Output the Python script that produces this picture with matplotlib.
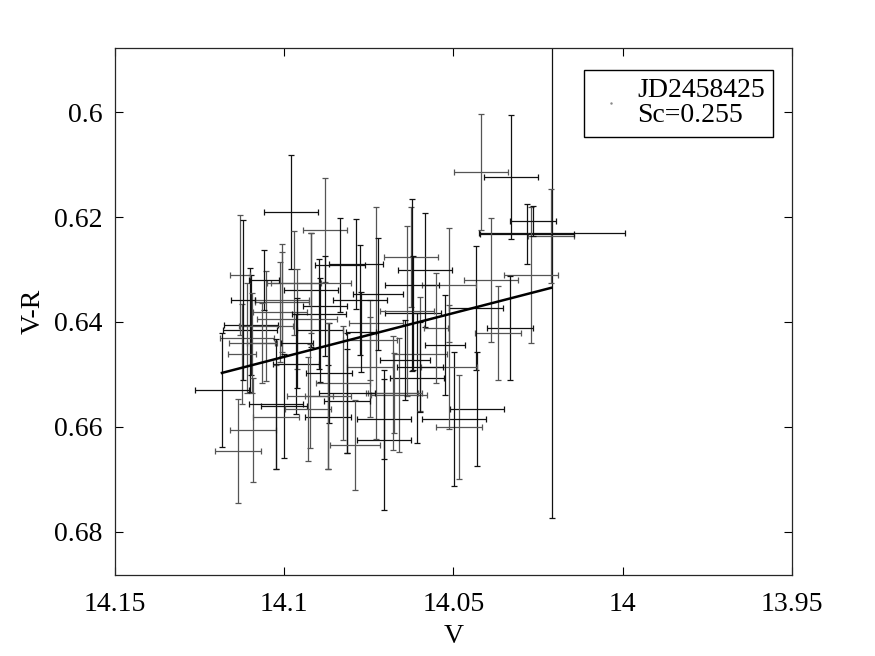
import matplotlib
matplotlib.use('Agg')
import matplotlib.pyplot as plt
import numpy as np

# V magnitude, V-R colour and their errors
v_mag = [14.0209, 14.0212, 14.0283, 14.0271, 14.0265, 14.0419, 14.0330, 14.0389, 14.0333, 14.0369,
         14.0434, 14.0513, 14.0584, 14.0626, 14.0431, 14.0484, 14.0499, 14.0513, 14.0608, 14.0661,
         14.0705, 14.0599, 14.0620, 14.0729, 14.0723, 14.0637, 14.0623, 14.0679, 14.0705, 14.0747,
         14.0599, 14.0676, 14.0980, 14.0880, 14.0835, 14.0971, 14.0921, 14.1007, 14.1101, 14.1110,
         14.1098, 14.1007, 14.0880, 14.1013, 14.0897, 14.0962, 14.0894, 14.1095, 14.0962, 14.1125,
         14.0965, 14.1137, 14.1184, 14.1092, 14.1001, 14.1024, 14.0815, 14.0924, 14.0871, 14.0930,
         14.0815, 14.0826, 14.0868, 14.0871, 14.1024, 14.1054, 14.0788, 14.0921, 14.1060, 14.0747,
         14.0776, 14.1131, 14.1122, 14.1066, 14.0773, 14.0552, 14.0525, 14.0791, 14.0643]
v_r = [0.6230, 0.6236, 0.6232, 0.6310, 0.6208, 0.6114, 0.6124, 0.6320, 0.6411, 0.6421,
       0.6373, 0.6330, 0.6301, 0.6276, 0.6566, 0.6600, 0.6585, 0.6486, 0.6507, 0.6539,
       0.6625, 0.6461, 0.6383, 0.6402, 0.6347, 0.6379, 0.6330, 0.6535, 0.6585, 0.6486,
       0.6486, 0.6535, 0.6190, 0.6225, 0.6291, 0.6326, 0.6339, 0.6358, 0.6415, 0.6430,
       0.6406, 0.6362, 0.6370, 0.6381, 0.6385, 0.6394, 0.6415, 0.6440, 0.6440, 0.6461,
       0.6480, 0.6646, 0.6530, 0.6606, 0.6560, 0.6581, 0.6550, 0.6541, 0.6581, 0.6566,
       0.6535, 0.6516, 0.6497, 0.6541, 0.6556, 0.6408, 0.6290, 0.6326, 0.6320, 0.6434,
       0.6358, 0.6310, 0.6358, 0.6440, 0.6419, 0.6411, 0.6444, 0.6634, 0.6472]
v_err = [0.0216, 0.0068, 0.0139, 0.0080, 0.0068, 0.0080, 0.0080, 0.0080, 0.0068, 0.0068,
         0.0080, 0.0080, 0.0080, 0.0080, 0.0080, 0.0068, 0.0095, 0.0083, 0.0080, 0.0083,
         0.0080, 0.0080, 0.0083, 0.0080, 0.0074, 0.0080, 0.0080, 0.0074, 0.0080, 0.0068,
         0.0068, 0.0083, 0.0080, 0.0065, 0.0074, 0.0080, 0.0080, 0.0080, 0.0080, 0.0080,
         0.0080, 0.0080, 0.0065, 0.0080, 0.0080, 0.0118, 0.0068, 0.0068, 0.0047, 0.0041,
         0.0068, 0.0068, 0.0080, 0.0068, 0.0068, 0.0068, 0.0068, 0.0068, 0.0068, 0.0068,
         0.0083, 0.0080, 0.0068, 0.0068, 0.0080, 0.0080, 0.0080, 0.0118, 0.0044, 0.0080,
         0.0080, 0.0030, 0.0035, 0.0044, 0.0044, 0.0035, 0.0059, 0.0074, 0.0074]
vr_err = [0.0543, 0.0090, 0.0057, 0.0130, 0.0029, 0.0110, 0.0118, 0.0118, 0.0099, 0.0090,
          0.0118, 0.0109, 0.0109, 0.0095, 0.0109, 0.0099, 0.0128, 0.0118, 0.0124, 0.0109,
          0.0133, 0.0109, 0.0109, 0.0221, 0.0107, 0.0162, 0.0164, 0.0109, 0.0076, 0.0095,
          0.0086, 0.0076, 0.0109, 0.0099, 0.0090, 0.0099, 0.0109, 0.0107, 0.0118, 0.0105,
          0.0095, 0.0095, 0.0095, 0.0095, 0.0105, 0.0095, 0.0099, 0.0095, 0.0086, 0.0095,
          0.0095, 0.0099, 0.0109, 0.0099, 0.0099, 0.0099, 0.0099, 0.0099, 0.0099, 0.0099,
          0.0114, 0.0109, 0.0095, 0.0139, 0.0124, 0.0105, 0.0086, 0.0095, 0.0057, 0.0076,
          0.0105, 0.0114, 0.0152, 0.0076, 0.0076, 0.0105, 0.0095, 0.0086, 0.0076]

# linear fit drawn over the data
fit_v = [14.1184, 14.0212]
fit_vr = [0.6497, 0.6335]

legend_label = 'JD2458425\nSc=0.255'

plt.rcParams['font.family'] = ['Liberation Serif', 'DejaVu Serif']
plt.rcParams['font.size'] = 20

fig = plt.figure(figsize=(8.75, 6.56), dpi=100)
ax = fig.add_axes([0.1314, 0.1235, 0.7737, 0.8033])

for i in range(len(v_mag)):
    col = '#111111' if i % 2 == 0 else '#555555'
    ax.errorbar(v_mag[i], v_r[i], xerr=v_err[i], yerr=vr_err[i], fmt='none',
                ecolor=col, elinewidth=0.9, capsize=2.2, capthick=0.9)

ax.plot([], [], '.', color='#888888', markersize=1.5, label=legend_label)
ax.plot(fit_v, fit_vr, color='black', linewidth=1.8)

ax.set_xlim(14.15, 13.95)
ax.set_ylim(0.6882, 0.5878)
ax.set_xticks([14.15, 14.1, 14.05, 14.0, 13.95])
ax.set_xticklabels(['14.15', '14.1', '14.05', '14', '13.95'])
ax.set_yticks([0.6, 0.62, 0.64, 0.66, 0.68])
ax.set_yticklabels(['0.6', '0.62', '0.64', '0.66', '0.68'])
ax.tick_params(direction='in', length=6, width=0.8, top=True, right=True)
ax.tick_params(axis='x', pad=12)
ax.tick_params(axis='y', pad=9)
for sp in ax.spines.values():
    sp.set_linewidth(0.9)
    sp.set_color('#262626')

ax.set_xlabel('V', labelpad=5)
ax.set_ylabel('V-R', labelpad=6)

leg = ax.legend(loc='upper right', bbox_to_anchor=(0.972, 0.958), borderaxespad=0,
                fancybox=False, edgecolor='black', framealpha=1, handlelength=1.3,
                handletextpad=0.3, borderpad=0.3, fontsize=20)
leg.get_frame().set_linewidth(1.0)
for t in leg.get_texts():
    t.set_linespacing(1.0)

fig.savefig('out.png', dpi=100)
